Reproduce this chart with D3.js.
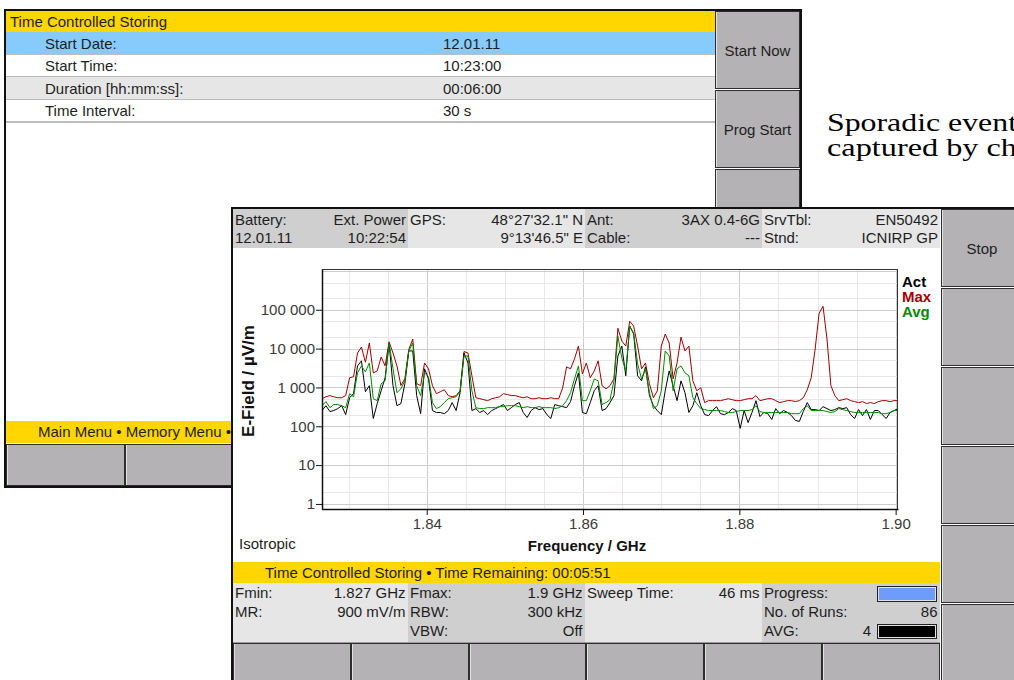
<!DOCTYPE html>
<html>
<head>
<meta charset="utf-8">
<title>Time Controlled Storing | E-Field spectrum</title>
<script src="https://cdnjs.cloudflare.com/ajax/libs/d3/7.8.5/d3.min.js"></script>
<style>
	body { margin:0; background:#fff; overflow:hidden; }
	svg { display:block; }
	text { font-family:"Liberation Sans", Arial, sans-serif; font-size:15px; fill:#1e1e1e; }
	.tick text { font-size:15px; fill:#3a3a3a; }
	.tick line { stroke:#111; }
	.axisTitle { font-weight:bold; fill:#111; }
	.legend { font-weight:bold; }
	.note { font-family:"Liberation Serif", "Times New Roman", serif; font-size:25px; fill:#000; }
	.trace { fill:none; stroke-width:1px; }
	.crisp { shape-rendering:crispEdges; }
</style>
</head>
<body>
<svg class="screen" width="1014" height="680"></svg>
<script>
	// ---- chart data ----
	// frequency range covered by the trace, GHz
	var sweepStart = 1.8266, sweepStop = 1.9003;

	// field strength per sweep point in dBµV/m
	var maxHold = [
		54.2, 55.2, 55.8, 55.2, 54.7, 54.7, 55.8, 65.0, 65.5, 77.7,
		80.8, 73.0, 82.9, 67.5, 68.5, 75.7, 71.1, 83.5, 77.7, 71.1,
		61.0, 64.5, 79.5, 84.9, 62.0, 60.9, 72.6, 69.6, 60.9, 56.8,
		57.8, 58.8, 55.8, 55.2, 55.8, 58.3, 78.5, 77.7, 66.0, 54.7,
		54.2, 53.7, 53.2, 54.2, 54.7, 55.2, 56.8, 56.3, 55.8, 55.8,
		55.2, 54.7, 55.2, 54.2, 54.2, 54.7, 54.2, 54.2, 54.7, 54.2,
		54.2, 59.8, 70.6, 69.6, 74.7, 81.3, 67.0, 72.6, 65.0, 68.5,
		73.7, 60.9, 59.3, 60.9, 64.5, 90.5, 83.9, 81.3, 94.1, 91.6,
		81.3, 69.6, 72.6, 61.9, 54.7, 58.3, 81.3, 87.5, 82.9, 64.4,
		72.6, 85.9, 78.8, 81.3, 63.4, 58.3, 59.8, 52.2, 53.2, 53.2,
		53.2, 53.2, 53.7, 54.2, 53.7, 53.2, 53.2, 53.7, 54.2, 54.2,
		55.8, 53.2, 53.7, 54.2, 54.2, 53.2, 52.2, 52.7, 53.2, 53.2,
		52.7, 53.2, 54.7, 58.8, 65.0, 79.8, 98.2, 101.8, 84.9, 60.9,
		55.8, 53.2, 53.7, 54.2, 53.2, 52.7, 52.2, 52.7, 51.7, 52.2,
		51.7, 52.7, 53.2, 53.2, 52.7, 53.2, 53.2
	];
	var actual = [
		48.1, 50.6, 47.6, 48.1, 49.1, 50.6, 46.0, 54.7, 56.8, 71.1,
		73.7, 57.8, 60.9, 44.0, 51.7, 58.3, 65.0, 82.9, 60.9, 50.6,
		51.7, 61.9, 78.8, 78.8, 55.8, 46.5, 69.6, 64.4, 48.1, 47.1,
		47.1, 46.5, 48.1, 52.2, 48.1, 57.3, 77.7, 72.6, 48.1, 49.1,
		47.1, 48.1, 46.0, 48.1, 49.1, 50.1, 51.2, 48.1, 49.6, 51.2,
		52.2, 47.1, 44.5, 48.1, 49.6, 48.6, 49.1, 46.0, 44.0, 51.2,
		50.6, 50.1, 49.6, 52.7, 60.9, 67.5, 47.1, 46.5, 52.2, 58.3,
		60.9, 48.1, 49.1, 52.2, 55.8, 76.2, 81.3, 66.0, 91.6, 87.5,
		66.0, 63.4, 70.6, 55.8, 50.6, 48.1, 46.0, 58.3, 68.5, 60.9,
		53.2, 63.4, 57.3, 47.1, 50.6, 57.3, 50.6, 46.0, 45.5, 48.1,
		50.1, 46.5, 46.0, 47.1, 49.1, 48.1, 38.9, 48.1, 41.9, 47.1,
		53.2, 45.0, 47.1, 46.5, 43.5, 49.1, 46.5, 48.1, 47.1, 45.5,
		43.0, 42.5, 47.6, 52.2, 48.6, 48.6, 48.1, 50.1, 49.1, 48.1,
		48.6, 49.6, 49.1, 49.6, 46.0, 44.0, 48.6, 45.5, 48.6, 43.5,
		48.1, 48.1, 46.0, 44.0, 47.1, 48.1, 49.1
	];
	var average = [
		50.6, 52.7, 49.6, 51.2, 51.2, 50.6, 49.6, 56.8, 55.2, 67.5,
		71.1, 68.0, 72.6, 54.2, 53.2, 61.9, 63.4, 82.9, 69.6, 57.3,
		59.3, 63.4, 78.8, 82.9, 60.9, 55.8, 67.5, 65.5, 52.2, 49.1,
		50.1, 52.2, 54.2, 54.7, 55.2, 57.8, 76.2, 76.2, 58.3, 49.6,
		49.1, 49.1, 49.6, 49.6, 49.6, 50.1, 50.1, 50.6, 50.6, 50.6,
		50.1, 49.6, 50.1, 49.6, 49.6, 50.1, 49.6, 49.6, 49.6, 49.1,
		49.6, 50.6, 53.2, 57.3, 64.4, 71.1, 53.2, 53.2, 58.3, 64.4,
		63.4, 51.2, 52.2, 53.7, 63.4, 86.4, 75.2, 68.5, 91.6, 88.0,
		72.1, 64.4, 69.6, 57.3, 49.1, 50.6, 58.3, 78.8, 76.2, 58.3,
		69.6, 71.1, 67.5, 66.0, 54.7, 51.7, 49.1, 48.6, 48.1, 48.1,
		48.1, 48.1, 47.6, 47.1, 47.1, 47.6, 48.1, 48.1, 48.1, 48.6,
		50.6, 47.6, 47.1, 47.1, 47.1, 47.1, 47.1, 47.1, 47.1, 46.5,
		46.5, 46.5, 49.1, 50.6, 48.1, 48.1, 48.1, 48.1, 47.6, 47.1,
		47.6, 49.1, 48.6, 48.1, 47.6, 47.1, 47.1, 47.1, 47.1, 47.1,
		47.1, 47.1, 46.5, 46.5, 47.1, 48.1, 48.1
	];

	var yTickValues = [1, 10, 100, 1000, 10000, 100000];
	var xTickValues = [1.84, 1.86, 1.88, 1.90];
	var legendNames = ["Act", "Max", "Avg"];

	// ---- screen texts ----
	var storingRows = [
		["Start Date:", "12.01.11"],
		["Start Time:", "10:23:00"],
		["Duration [hh:mm:ss]:", "00:06:00"],
		["Time Interval:", "30 s"]
	];
	var storingButtons = ["Start Now", "Prog Start", ""];
	var statusCells = [
		["Battery:", "Ext. Power", "12.01.11", "10:22:54"],
		["GPS:", "48°27'32.1\" N", "", "9°13'46.5\" E"],
		["Ant:", "3AX 0.4-6G", "Cable:", "---"],
		["SrvTbl:", "EN50492", "Stnd:", "ICNIRP GP"]
	];
	var infoCells = [
		[["Fmin:", "1.827 GHz"], ["MR:", "900 mV/m"]],
		[["Fmax:", "1.9 GHz"], ["RBW:", "300 kHz"], ["VBW:", "Off"]],
		[["Sweep Time:", "46 ms"]],
		[["Progress:", ""], ["No. of Runs:", "86"], ["AVG:", "4"]]
	];
	var sideButtons = ["Stop", "", "", "", "", ""];

	var gold = "#ffd600", rowBlue = "#86cbfc", btnFill = "#b4b2b4";
	var cellDark = "#cfcfcf", cellLight = "#e6e6e6";
	var traceColors = { "Act": "#000000", "Max": "#a00000", "Avg": "#008a00" };

	var svg = d3.select(".screen");

	//draws a row of soft keys
	var drawButtons = function(g, list) {
		var b = g.selectAll(null).data(list).enter().append("g");
		b.append("rect")
			.attr("class", "crisp")
			.attr("x", function(d) { return d.x + 0.5; })
			.attr("y", function(d) { return d.y + 0.5; })
			.attr("width", function(d) { return d.w - 1; })
			.attr("height", function(d) { return d.h - 1; })
			.attr("fill", btnFill)
			.attr("stroke", "#2e2e2e");
		b.append("line")
			.attr("class", "crisp")
			.attr("x1", function(d) { return d.x + 1.5; })
			.attr("x2", function(d) { return d.x + 1.5; })
			.attr("y1", function(d) { return d.y + 1; })
			.attr("y2", function(d) { return d.y + d.h - 1; })
			.attr("stroke", "#e2e2e2");
		b.append("text")
			.attr("x", function(d) { return d.x + d.w / 2; })
			.attr("y", function(d) { return d.y + d.h / 2 + 5.5; })
			.attr("text-anchor", "middle")
			.text(function(d) { return d.label; });
	};

	// note text at the top right, cut by the page edge
	var noteGroup = svg.append("g");
	noteGroup.append("text").attr("class", "note").attr("x", 827).attr("y", 131)
		.attr("textLength", 190).attr("lengthAdjust", "spacingAndGlyphs").text("Sporadic event");
	noteGroup.append("text").attr("class", "note").attr("x", 827).attr("y", 156)
		.attr("textLength", 190).attr("lengthAdjust", "spacingAndGlyphs").text("captured by ch");

	// ---------- window 1: storing setup ----------
	var win1 = svg.append("g");
	win1.append("rect")
		.attr("x", 5).attr("y", 10).attr("width", 796).attr("height", 477)
		.attr("fill", "#fff").attr("stroke", "#111").attr("stroke-width", 2);
	win1.append("rect").attr("x", 6).attr("y", 11).attr("width", 709).attr("height", 21).attr("fill", gold);
	win1.append("text").attr("x", 10).attr("y", 26.5).text("Time Controlled Storing");

	var rowTop = function(i) { return 32 + i * 22.5; };
	var setupRows = win1.selectAll(null).data(storingRows).enter().append("g");
	setupRows.append("rect")
		.attr("x", 6).attr("y", function(d, i) { return rowTop(i); })
		.attr("width", 709).attr("height", 22.5)
		.attr("fill", function(d, i) { return i == 0 ? rowBlue : (i == 2 ? "#e6e6e6" : "#fff"); });
	setupRows.append("line")
		.attr("x1", 6).attr("x2", 715)
		.attr("y1", function(d, i) { return rowTop(i + 1); })
		.attr("y2", function(d, i) { return rowTop(i + 1); })
		.attr("stroke", "#7a7a7a");
	setupRows.append("text").attr("x", 45).attr("y", function(d, i) { return rowTop(i) + 16.5; }).text(function(d) { return d[0]; });
	setupRows.append("text").attr("x", 443).attr("y", function(d, i) { return rowTop(i) + 16.5; }).text(function(d) { return d[1]; });

	drawButtons(win1, storingButtons.map(function(l, i) { return { x: 715, y: 11 + i * 79, w: 85, h: 78, label: l }; }));

	win1.append("rect").attr("x", 6).attr("y", 421).attr("width", 709).attr("height", 22).attr("fill", gold);
	win1.append("text").attr("x", 38).attr("y", 437).text("Main Menu • Memory Menu •");
	drawButtons(win1, d3.range(6).map(function(i) { return { x: 6 + i * 118.5, y: 444, w: 118.5, h: 42, label: "" }; }));

	// ---------- window 2: spectrum ----------
	var win2 = svg.append("g");
	win2.append("rect")
		.attr("x", 232).attr("y", 208).attr("width", 820).attr("height", 500)
		.attr("fill", "#fff").attr("stroke", "#111").attr("stroke-width", 2);

	var cellEdges = [233, 408, 585, 762, 940];

	// status header
	var headCells = win2.selectAll(null).data(statusCells).enter().append("g");
	headCells.append("rect")
		.attr("x", function(d, i) { return cellEdges[i]; })
		.attr("y", 209)
		.attr("width", function(d, i) { return cellEdges[i + 1] - cellEdges[i]; })
		.attr("height", 39)
		.attr("fill", function(d, i) { return i % 2 ? cellLight : cellDark; });
	[[0, 225, "start"], [1, 225, "end"], [2, 243, "start"], [3, 243, "end"]].forEach(function(p) {
		headCells.append("text")
			.attr("x", function(d, i) { return p[2] == "start" ? cellEdges[i] + 2 : cellEdges[i + 1] - 2; })
			.attr("y", p[1])
			.attr("text-anchor", p[2])
			.text(function(d) { return d[p[0]]; });
	});

	// bottom status bar and info cells
	win2.append("rect").attr("x", 233).attr("y", 562).attr("width", 707).attr("height", 21).attr("fill", gold);
	win2.append("text").attr("x", 265).attr("y", 578).text("Time Controlled Storing • Time Remaining: 00:05:51");

	var infoGroups = win2.selectAll(null).data(infoCells).enter().append("g");
	infoGroups.append("rect")
		.attr("x", function(d, i) { return cellEdges[i]; })
		.attr("y", 583)
		.attr("width", function(d, i) { return cellEdges[i + 1] - cellEdges[i]; })
		.attr("height", 59)
		.attr("fill", function(d, i) { return i % 2 ? cellDark : cellLight; });
	infoGroups.each(function(cell, ci) {
		var g = d3.select(this);
		cell.forEach(function(line, li) {
			var base = 598 + li * 19;
			g.append("text").attr("x", cellEdges[ci] + 2).attr("y", base).text(line[0]);
			var right = cellEdges[ci + 1] - 2.5;
			if (ci == 3 && li == 2) right = 871;
			g.append("text").attr("x", right).attr("y", base).attr("text-anchor", "end").text(line[1]);
		});
	});
	// progress and averaging bars
	win2.append("rect").attr("class", "crisp").attr("x", 877.5).attr("y", 586.5).attr("width", 59).attr("height", 15)
		.attr("fill", "#e0e0e0").attr("stroke", "#222");
	win2.append("rect").attr("class", "crisp").attr("x", 879).attr("y", 588).attr("width", 56).attr("height", 12).attr("fill", "#6d9cfb");
	win2.append("rect").attr("class", "crisp").attr("x", 877.5).attr("y", 624.5).attr("width", 59).attr("height", 14)
		.attr("fill", "#e0e0e0").attr("stroke", "#222");
	win2.append("rect").attr("class", "crisp").attr("x", 879).attr("y", 626).attr("width", 56).attr("height", 11).attr("fill", "#000");

	win2.append("line").attr("class", "crisp").attr("x1", 233).attr("x2", 940).attr("y1", 642.5).attr("y2", 642.5).attr("stroke", "#9a9a9a");
	drawButtons(win2, d3.range(6).map(function(i) { return { x: 233 + i * 117.8, y: 643, w: 117.8, h: 45, label: "" }; }));
	drawButtons(win2, sideButtons.map(function(l, i) { return { x: 941, y: 209 + i * 79, w: 82, h: 78, label: l }; }));

	// ---------- spectrum plot ----------
	var plotBox = { left: 322, right: 898, top: 269, bottom: 509 };
	var x = d3.scaleLinear().domain([sweepStart, sweepStop]).range([plotBox.left, plotBox.right]);
	var y = d3.scaleLog().domain([Math.pow(10, -0.13), Math.pow(10, 6.05)]).range([plotBox.bottom, plotBox.top]);

	var n = maxHold.length;
	var freqs = d3.range(n).map(function(i) { return sweepStart + i * (sweepStop - sweepStart) / (n - 1); });
	//dBµV/m -> µV/m
	var toField = function(db) { return Math.pow(10, db / 20); };

	var chart = win2.append("g");

	// grid
	var minorX = d3.range(1.830, 1.9002, 0.005);
	var majorY = [1, 10, 100, 1000, 10000, 100000, 1000000];
	var minorY = [];
	[0.1].concat(majorY).forEach(function(d) { minorY.push(2 * d, 5 * d); });
	var yDom = y.domain();
	minorY = minorY.filter(function(v) { return v > yDom[0] && v < yDom[1]; });

	var px = function(v) { return Math.round(v) + 0.5; };
	chart.selectAll(null).data(minorX).enter().append("line").attr("class", "crisp")
		.attr("x1", function(d) { return px(x(d)); }).attr("x2", function(d) { return px(x(d)); })
		.attr("y1", plotBox.top).attr("y2", plotBox.bottom)
		.attr("stroke", function(d) { return Math.abs(d * 50 - Math.round(d * 50)) < 1e-6 ? "#cdcdcd" : "#ebe7e9"; });
	chart.selectAll(null).data(minorY).enter().append("line").attr("class", "crisp")
		.attr("y1", function(d) { return px(y(d)); }).attr("y2", function(d) { return px(y(d)); })
		.attr("x1", plotBox.left).attr("x2", plotBox.right).attr("stroke", "#ebe7e9");
	chart.selectAll(null).data(majorY).enter().append("line").attr("class", "crisp")
		.attr("y1", function(d) { return px(y(d)); }).attr("y2", function(d) { return px(y(d)); })
		.attr("x1", plotBox.left).attr("x2", plotBox.right).attr("stroke", "#cdcdcd");

	// traces
	chart.append("clipPath").attr("id", "plotClip").append("rect")
		.attr("x", plotBox.left).attr("y", plotBox.top)
		.attr("width", plotBox.right - plotBox.left).attr("height", plotBox.bottom - plotBox.top);
	var traceLine = d3.line()
		.x(function(d, i) { return x(freqs[i]); })
		.y(function(d) { return y(toField(d)); });
	var traces = [["Max", maxHold], ["Act", actual], ["Avg", average]];
	chart.append("g").attr("clip-path", "url(#plotClip)")
		.selectAll("path").data(traces).enter().append("path")
		.attr("class", "trace")
		.attr("stroke", function(d) { return traceColors[d[0]]; })
		.attr("d", function(d) { return traceLine(d[1]); });

	// frame and axes
	chart.append("rect").attr("class", "crisp")
		.attr("x", plotBox.left + 0.5).attr("y", plotBox.top + 0.5)
		.attr("width", plotBox.right - plotBox.left - 1).attr("height", plotBox.bottom - plotBox.top)
		.attr("fill", "none").attr("stroke", "#333");

	var yAxis = d3.axisLeft(y).tickValues(yTickValues).tickSize(6).tickSizeOuter(0).tickPadding(1)
		.tickFormat(function(d) { return d3.format(",")(d).replace(/,/g, " "); });
	var xAxis = d3.axisBottom(x).tickValues(xTickValues).tickSize(6).tickSizeOuter(0).tickPadding(3)
		.tickFormat(d3.format(".2f"));

	var yg = chart.append("g").attr("transform", "translate(" + plotBox.left + ",0)").call(yAxis);
	var xg = chart.append("g").attr("transform", "translate(0," + plotBox.bottom + ")").call(xAxis);
	yg.select(".domain").attr("stroke", "#111").attr("stroke-width", 1.5);
	xg.select(".domain").attr("stroke", "#111").attr("stroke-width", 1.5);
	yg.attr("font-family", null).attr("font-size", null);
	xg.attr("font-family", null).attr("font-size", null);

	// titles
	chart.append("text").attr("class", "axisTitle")
		.attr("transform", "translate(254,381) rotate(-90)")
		.attr("text-anchor", "middle").style("font-size", "17px")
		.text("E-Field / µV/m");
	chart.append("text").attr("class", "axisTitle")
		.attr("x", 587).attr("y", 551).attr("text-anchor", "middle")
		.text("Frequency / GHz");
	chart.append("text").attr("x", 239).attr("y", 549).text("Isotropic");

	// legend
	chart.selectAll(null).data(legendNames).enter().append("text")
		.attr("class", "legend")
		.attr("x", 902)
		.attr("y", function(d, i) { return 287 + i * 15; })
		.style("fill", function(d) { return traceColors[d]; })
		.text(function(d) { return d; });
</script>
</body>
</html>
